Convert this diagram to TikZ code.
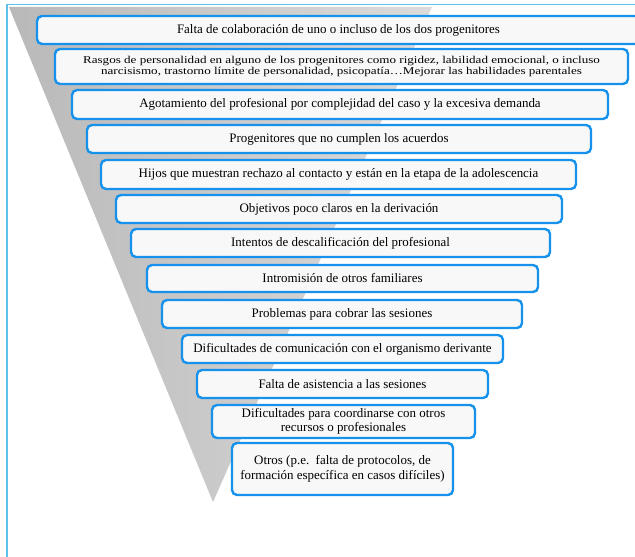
\documentclass[tikz,border=0pt]{standalone}
\usepackage{fontspec}
\setmainfont{Liberation Serif}
\newfontfamily\widefont[FakeStretch=1.25]{Liberation Serif}
\definecolor{boxblue}{RGB}{22,146,236}
\definecolor{framecyan}{RGB}{96,192,236}
\definecolor{boxfill}{RGB}{248,248,248}
\begin{document}
\begin{tikzpicture}[x=1bp,y=-1bp,
  box/.style={draw=boxblue, line width=2.4bp, rounded corners=5bp, fill=boxfill,
    align=center, inner sep=0pt, font=\fontsize{13}{14.5}\selectfont},
  wedge/.style={left color=gray!55, right color=gray!28, draw=none}]
\useasboundingbox (0,0) rectangle (635,557);
\fill[white] (0,0) rectangle (635,557);
% outer frame
\draw[framecyan, line width=1.8bp] (7,557) -- (7,4.5) -- (640,4.5);
% funnel wedge behind the list
\shade[wedge] (9,7) -- (432,7) -- (213,502) -- cycle;
% the list of difficulties, widest at the top
\node[box, minimum width=603bp, minimum height=28bp] (b1) at (338.5,30)
  {Falta de colaboración de uno o incluso de los dos progenitores};
\node[box, minimum width=573bp, minimum height=35bp,
      font=\widefont\fontsize{10.5}{11.2}\selectfont] (b2) at (341.5,66.5)
  {Rasgos de personalidad en alguno de los progenitores como rigidez, labilidad emocional, o incluso\\
   narcisismo, trastorno límite de personalidad, psicopatía…Mejorar las habilidades parentales};
\node[box, minimum width=536bp, minimum height=29bp] (b3) at (340,104.5)
  {Agotamiento del profesional por complejidad del caso y la excesiva demanda};
\node[box, minimum width=504bp, minimum height=28bp] (b4) at (339,139)
  {Progenitores que no cumplen los acuerdos};
\node[box, minimum width=475bp, minimum height=29bp] (b5) at (338.5,174.5)
  {Hijos que muestran rechazo al contacto y están en la etapa de la adolescencia};
\node[box, minimum width=446bp, minimum height=28bp] (b6) at (339,209)
  {Objetivos poco claros en la derivación};
\node[box, minimum width=419bp, minimum height=28bp] (b7) at (340.5,243)
  {Intentos de descalificación del profesional};
\node[box, minimum width=391bp, minimum height=27bp] (b8) at (342.5,278.5)
  {Intromisión de otros familiares};
\node[box, minimum width=360bp, minimum height=28bp] (b9) at (342,314)
  {Problemas para cobrar las sesiones};
\node[box, minimum width=321bp, minimum height=28bp] (b10) at (342.5,349)
  {Dificultades de comunicación con el organismo derivante};
\node[box, minimum width=291bp, minimum height=28bp] (b11) at (342.5,384)
  {Falta de asistencia a las sesiones};
\node[box, minimum width=263bp, minimum height=33bp] (b12) at (343.5,421.5)
  {Dificultades para coordinarse con otros\\ recursos o profesionales};
\node[box, minimum width=221bp, minimum height=52bp] (b13) at (342.5,469)
  {Otros (p.e.\ \ falta de protocolos, de\\ formación específica en casos difíciles)};
\end{tikzpicture}
\end{document}
